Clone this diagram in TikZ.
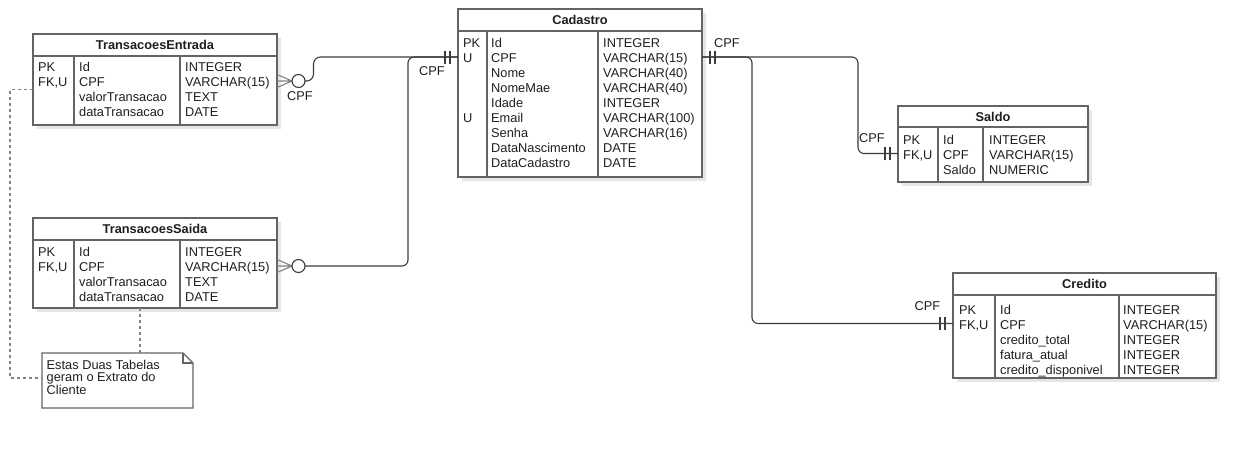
\documentclass[tikz,border=0pt]{standalone}
\usepackage{fontspec}
\setmainfont{Liberation Sans}
\usetikzlibrary{shadows}
\definecolor{ergray}{RGB}{100,100,100}
\definecolor{erdark}{RGB}{60,60,60}
\definecolor{erlight}{RGB}{130,130,130}
\definecolor{ershadow}{RGB}{230,230,230}
\tikzset{
    tablebox/.style={draw=ergray, line width=1.1pt, fill=white, inner sep=0pt, outer sep=0pt,
        drop shadow={shadow xshift=4pt, shadow yshift=-4pt, fill=ershadow, opacity=1}},
    tableline/.style={draw=ergray, line width=1.1pt},
    tabletitle/.style={font=\fontsize{12.8pt}{15pt}\selectfont\bfseries, inner sep=0pt},
    celltext/.style={anchor=base west, inner sep=0pt},
    erline/.style={draw=erdark, line width=1.1pt},
    erfoot/.style={draw=erlight, line width=1.1pt},
    erlabel/.style={inner sep=0pt},
    notebox/.style={draw=ergray, line width=1.1pt, fill=white},
    notelink/.style={draw=erlight, line width=1.1pt, dash pattern=on 3pt off 3pt},
    erzeromany/.pic={
        \draw[erfoot] (0,-6.5) -- (15,0) -- (0,6.5) (0,0) -- (15,0);
        \draw[erline, fill=white] (21.5,0) circle[radius=6.5pt];
    },
    eronlyone/.pic={
        \draw[erline] (8,-6.5) -- (8,6.5) (13,-6.5) -- (13,6.5);
    }
}
\begin{document}
\begin{tikzpicture}[x=1pt, y=-1pt, font=\fontsize{12.8pt}{15pt}\selectfont, text=black!88]
    \path[use as bounding box, fill=white] (0,0) rectangle (1256,450);

    % TransacoesEntrada
    \node[tablebox, minimum width=244pt, minimum height=91pt] (entrada) at (155,79.5) {};
    \node[tabletitle] at ([yshift=-11pt]entrada.north) {TransacoesEntrada};
    \draw[tableline] (33,56) -- (277,56) (74,56) -- (74,125) (180,56) -- (180,125);
    \foreach \k/\f/\t [count=\i] in {PK/Id/INTEGER, FK{,}U/CPF/VARCHAR(15),
            /valorTransacao/TEXT, /dataTransacao/DATE} {
        \coordinate (entrada-r\i) at (0,51+15*\i);
        \node[celltext] at (38,56.5+15*\i) {\k};
        \node[celltext] at (79,56.5+15*\i) {\f};
        \node[celltext] at (185,56.5+15*\i) {\t};
    }

    % TransacoesSaida
    \node[tablebox, minimum width=244pt, minimum height=90pt] (saida) at (155,263) {};
    \node[tabletitle] at ([yshift=-11pt]saida.north) {TransacoesSaida};
    \draw[tableline] (33,240) -- (277,240) (74,240) -- (74,308) (180,240) -- (180,308);
    \foreach \k/\f/\t [count=\i] in {PK/Id/INTEGER, FK{,}U/CPF/VARCHAR(15),
            /valorTransacao/TEXT, /dataTransacao/DATE} {
        \coordinate (saida-r\i) at (0,236+15*\i);
        \node[celltext] at (38,241.5+15*\i) {\k};
        \node[celltext] at (79,241.5+15*\i) {\f};
        \node[celltext] at (185,241.5+15*\i) {\t};
    }

    % Cadastro
    \node[tablebox, minimum width=244pt, minimum height=168pt] (cadastro) at (580,93) {};
    \node[tabletitle] at ([yshift=-11pt]cadastro.north) {Cadastro};
    \draw[tableline] (458,31) -- (702,31) (487,31) -- (487,177) (598,31) -- (598,177);
    \foreach \k/\f/\t [count=\i] in {PK/Id/INTEGER, U/CPF/VARCHAR(15), /Nome/VARCHAR(40),
            /NomeMae/VARCHAR(40), /Idade/INTEGER, U/Email/VARCHAR(100), /Senha/VARCHAR(16),
            /DataNascimento/DATE, /DataCadastro/DATE} {
        \coordinate (cadastro-r\i) at (0,27+15*\i);
        \node[celltext] at (463,32.5+15*\i) {\k};
        \node[celltext] at (491,32.5+15*\i) {\f};
        \node[celltext] at (603,32.5+15*\i) {\t};
    }

    % Saldo
    \node[tablebox, minimum width=190pt, minimum height=76pt] (saldo) at (993,144) {};
    \node[tabletitle] at ([yshift=-11pt]saldo.north) {Saldo};
    \draw[tableline] (898,127) -- (1088,127) (938,127) -- (938,182) (983,127) -- (983,182);
    \foreach \k/\f/\t [count=\i] in {PK/Id/INTEGER, FK{,}U/CPF/VARCHAR(15), /Saldo/NUMERIC} {
        \coordinate (saldo-r\i) at (0,123.5+15*\i);
        \node[celltext] at (903,129+15*\i) {\k};
        \node[celltext] at (943,129+15*\i) {\f};
        \node[celltext] at (989,129+15*\i) {\t};
    }

    % Credito
    \node[tablebox, minimum width=263pt, minimum height=105pt] (credito) at (1084.5,325.5) {};
    \node[tabletitle] at ([yshift=-11pt]credito.north) {Credito};
    \draw[tableline] (953,295) -- (1216,295) (995,295) -- (995,378) (1119,295) -- (1119,378);
    \foreach \k/\f/\t [count=\i] in {PK/Id/INTEGER, FK{,}U/CPF/VARCHAR(15),
            /credito\_total/INTEGER, /fatura\_atual/INTEGER, /credito\_disponivel/INTEGER} {
        \coordinate (credito-r\i) at (0,293.5+15*\i);
        \node[celltext] at (959,299+15*\i) {\k};
        \node[celltext] at (1000,299+15*\i) {\f};
        \node[celltext] at (1123,299+15*\i) {\t};
    }

    % note
    \node[minimum width=151pt, minimum height=55pt, inner sep=0pt, outer sep=0pt] (note) at (117.5,380.5) {};
    \draw[notebox] (note.north west) -- ([xshift=-10pt]note.north east)
        -- ([yshift=-10pt]note.north east) -- (note.south east) -- (note.south west) -- cycle;
    \draw[notebox, fill=none] ([xshift=-10pt]note.north east) -- ([xshift=-10pt,yshift=-10pt]note.north east)
        -- ([yshift=-10pt]note.north east);
    \node[anchor=north west, inner sep=0pt, align=left, font=\fontsize{12.8pt}{12.5pt}\selectfont]
        (notetext) at ([shift={(4.5,6.7)}]note.north west)
        {Estas Duas Tabelas\\geram o Extrato do\\Cliente};
    \coordinate (notebend) at (10,378);

    % relationships
    \draw[erline, rounded corners=7pt] (entrada.east |- entrada-r2) ++(28,0) -- ++(8.5,0)
        |- (cadastro.west |- cadastro-r2);
    \draw[erline, rounded corners=6pt] (saida.east |- saida-r2) ++(28,0) -- ++(103,0)
        |- (cadastro.west |- cadastro-r2);
    \draw[erline, rounded corners=6pt] (cadastro.east |- cadastro-r2) -- ++(156,0)
        |- (saldo.west |- saldo-r2);
    \draw[erline, rounded corners=6pt] (cadastro.east |- cadastro-r2) -- ++(50,0)
        |- (credito.west |- credito-r2);

    \pic at (entrada.east |- entrada-r2) {erzeromany};
    \pic at (saida.east |- saida-r2) {erzeromany};
    \pic[rotate=180] at (cadastro.west |- cadastro-r2) {eronlyone};
    \pic at (cadastro.east |- cadastro-r2) {eronlyone};
    \pic[rotate=180] at (saldo.west |- saldo-r2) {eronlyone};
    \pic[rotate=180] at (credito.west |- credito-r2) {eronlyone};

    \node[erlabel] at ([shift={(23,15)}]entrada.east |- entrada-r2) {CPF};
    \node[erlabel] at ([shift={(-26,14)}]cadastro.west |- cadastro-r2) {CPF};
    \node[erlabel] at ([shift={(25,-14)}]cadastro.east |- cadastro-r2) {CPF};
    \node[erlabel] at ([shift={(-26,-15.5)}]saldo.west |- saldo-r2) {CPF};
    \node[erlabel] at ([shift={(-25.5,-17.5)}]credito.west |- credito-r2) {CPF};

    % note links
    \draw[notelink] ([xshift=-15pt]saida.south) -- ([xshift=-15pt]saida.south |- note.north);
    \draw[notelink] ([yshift=-10pt]entrada.west) -| (notebend) -- (notebend -| note.west);
\end{tikzpicture}
\end{document}
